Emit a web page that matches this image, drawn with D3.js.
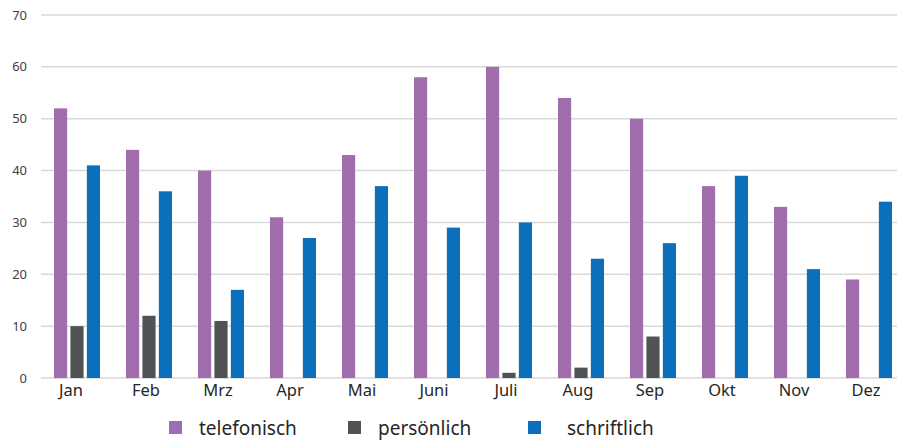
<!DOCTYPE html>
<html lang="de">
<head>
    <meta charset="UTF-8">
    <title>Kontakte pro Monat</title>
    <script src="https://d3js.org/d3.v7.min.js"></script>
    <style>
        body { margin: 0; background: #fff; font-family: 'Noto Sans', sans-serif; }
        svg { display: block; }
        .grid line { stroke: #d9d9d9; stroke-width: 1.5; }
        .ytick { font-size: 13px; fill: #404040; text-anchor: end; }
        .xtick { font-size: 16.5px; fill: #262626; text-anchor: middle; }
        .legend text { font-size: 19px; fill: #262626; }
    </style>
</head>
<body>
<svg width="897" height="441"></svg>
<script>
    const months = ["Jan", "Feb", "Mrz", "Apr", "Mai", "Juni", "Juli", "Aug", "Sep", "Okt", "Nov", "Dez"];
    const seriesNames = ["telefonisch", "persönlich", "schriftlich"];
    const colors = ["#a26dae", "#4f5354", "#0b6fbb"];
    const telefonisch = [52, 44, 40, 31, 43, 58, 60, 54, 50, 37, 33, 19];
    const persoenlich = [10, 12, 11, 0, 0, 0, 1, 2, 8, 0, 0, 0];
    const schriftlich = [41, 36, 17, 27, 37, 29, 30, 23, 26, 39, 21, 34];
    const yTicks = [0, 10, 20, 30, 40, 50, 60, 70];

    const values = [telefonisch, persoenlich, schriftlich];
    const data = months.map((m, i) => ({
        month: m,
        vals: seriesNames.map((s, k) => ({ key: s, value: values[k][i], color: colors[k] }))
    }));

    const svg = d3.select("svg");
    const x0 = d3.scaleBand().domain(months).range([41, 905]);
    const x1 = d3.scaleBand().domain(seriesNames)
        .range([x0.bandwidth() / 2 - 23, x0.bandwidth() / 2 + 23])
        .paddingInner(0.2);
    const y = d3.scaleLinear().domain([0, 70]).range([378, 15]);

    // gridlines
    svg.append("g").attr("class", "grid")
        .selectAll("line")
        .data(yTicks)
        .join("line")
        .attr("x1", 41)
        .attr("x2", 897)
        .attr("y1", d => y(d))
        .attr("y2", d => y(d));

    svg.append("g")
        .selectAll("text")
        .data(yTicks)
        .join("text")
        .attr("class", "ytick")
        .attr("x", 27)
        .attr("y", d => y(d))
        .attr("dy", "0.35em")
        .text(d => d);

    // bars
    const groups = svg.append("g")
        .selectAll("g")
        .data(data)
        .join("g")
        .attr("transform", d => `translate(${x0(d.month)},0)`);

    groups.selectAll("rect")
        .data(d => d.vals.filter(v => v.value > 0))
        .join("rect")
        .attr("x", d => x1(d.key))
        .attr("width", x1.bandwidth())
        .attr("y", d => y(d.value))
        .attr("height", d => y(0) - y(d.value))
        .attr("fill", d => d.color);

    svg.append("g")
        .selectAll("text")
        .data(months)
        .join("text")
        .attr("class", "xtick")
        .attr("x", (d, i) => x0(d) + x0.bandwidth() / 2 - (i === 0 ? 6 : 3))
        .attr("y", 396)
        .text(d => d);

    // legend
    const legendX = [169, 348, 528];
    const legend = svg.append("g").attr("class", "legend")
        .selectAll("g")
        .data(seriesNames)
        .join("g")
        .attr("transform", (d, i) => `translate(${legendX[i]},421)`);

    legend.append("rect")
        .attr("width", 13)
        .attr("height", 13)
        .attr("fill", (d, i) => colors[i]);

    legend.append("text")
        .attr("x", (d, i) => [30, 30, 39][i])
        .attr("y", 7)
        .attr("dy", "0.35em")
        .text(d => d);
</script>
</body>
</html>
